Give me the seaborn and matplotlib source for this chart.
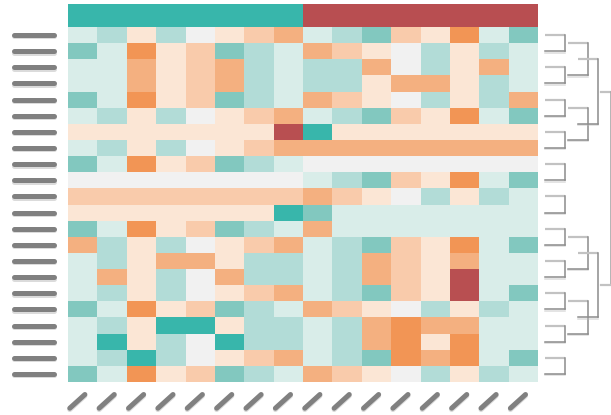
import numpy as np
import pandas as pd
import matplotlib
matplotlib.use("Agg")
import matplotlib.pyplot as plt
from matplotlib.colors import ListedColormap
from matplotlib.transforms import blended_transform_factory
import matplotlib.patheffects as pe
import seaborn as sns

# ---- data -------------------------------------------------------------
level_colors = ["#38b6ab", "#82c8bf", "#b2dcd7", "#d9ede9", "#f1f1f1",
                "#fbe6d5", "#f9cbab", "#f4b080", "#f29555", "#b84f51"]
group_colors = ["#38b6ab", "#b84e51"]
column_groups = [0] * 8 + [1] * 8

rows = [
    [3, 2, 5, 2, 4, 5, 6, 7, 3, 2, 1, 6, 5, 8, 3, 1],
    [1, 3, 8, 5, 6, 1, 2, 3, 7, 6, 5, 4, 2, 5, 2, 3],
    [3, 3, 7, 5, 6, 7, 2, 3, 2, 2, 7, 4, 2, 5, 7, 3],
    [3, 3, 7, 5, 6, 7, 2, 3, 2, 2, 5, 7, 7, 5, 2, 3],
    [1, 3, 8, 5, 6, 1, 2, 3, 7, 6, 5, 4, 2, 5, 2, 7],
    [3, 2, 5, 2, 4, 5, 6, 7, 3, 2, 1, 6, 5, 8, 3, 1],
    [5, 5, 5, 5, 5, 5, 5, 9, 0, 5, 5, 5, 5, 5, 5, 5],
    [3, 2, 5, 2, 4, 5, 6, 7, 7, 7, 7, 7, 7, 7, 7, 7],
    [1, 3, 8, 5, 6, 1, 2, 3, 4, 4, 4, 4, 4, 4, 4, 4],
    [4, 4, 4, 4, 4, 4, 4, 4, 3, 2, 1, 6, 5, 8, 3, 1],
    [6, 6, 6, 6, 6, 6, 6, 6, 7, 6, 5, 4, 2, 5, 2, 3],
    [5, 5, 5, 5, 5, 5, 5, 0, 1, 3, 3, 3, 3, 3, 3, 3],
    [1, 3, 8, 5, 6, 1, 2, 3, 7, 3, 3, 3, 3, 3, 3, 3],
    [7, 2, 5, 2, 4, 5, 6, 7, 3, 2, 1, 6, 5, 8, 3, 1],
    [3, 2, 5, 7, 7, 5, 2, 2, 3, 2, 7, 6, 5, 7, 3, 3],
    [3, 7, 5, 2, 4, 7, 2, 2, 3, 2, 7, 6, 5, 9, 3, 3],
    [3, 2, 5, 2, 4, 5, 6, 7, 3, 2, 1, 6, 5, 9, 3, 1],
    [1, 3, 8, 5, 6, 1, 2, 3, 7, 6, 5, 4, 2, 5, 2, 3],
    [3, 2, 5, 0, 0, 5, 2, 2, 3, 2, 7, 8, 7, 7, 3, 3],
    [3, 0, 5, 2, 4, 0, 2, 2, 3, 2, 7, 8, 5, 8, 3, 3],
    [3, 2, 0, 2, 4, 5, 6, 7, 3, 2, 1, 8, 7, 8, 3, 1],
    [1, 3, 8, 5, 6, 1, 2, 3, 7, 6, 5, 4, 2, 5, 2, 3],
]

# dendrogram structure: leaves are row pairs, then merges by index
leaf_pairs = [(2 * i, 2 * i + 1) for i in range(11)]
level2_merges = [(0, 1), (2, 3), (6, 7), (8, 9)]
level3_merges = [(0, 1), (2, 3)]
top_merges = [(0, 1)]

# ---- figure -----------------------------------------------------------
W, H = 611, 415
fig = plt.figure(figsize=(W / 100, H / 100), dpi=100)

def frac_box(x0, y0, x1, y1):
    return [x0 / W, 1 - y1 / H, (x1 - x0) / W, (y1 - y0) / H]

ax = fig.add_axes(frac_box(68, 27, 538, 382))
ax_top = fig.add_axes(frac_box(68, 4, 538, 27))
ax_den = fig.add_axes(frac_box(538, 27, 611, 382))

df = pd.DataFrame(rows)
nrow, ncol = df.shape
sns.heatmap(df, ax=ax, cmap=ListedColormap(level_colors), vmin=-0.5,
            vmax=len(level_colors) - 0.5, cbar=False, linewidths=0,
            xticklabels=False, yticklabels=False)

sns.heatmap(pd.DataFrame([column_groups]), ax=ax_top,
            cmap=ListedColormap(group_colors), vmin=-0.5, vmax=1.5,
            cbar=False, xticklabels=False, yticklabels=False)
for a in (ax, ax_top):
    a.tick_params(left=False, bottom=False)

# ---- redacted row labels (gray strokes) -------------------------------
shadow = [pe.SimpleLineShadow(offset=(0, -1), shadow_color="#999999", alpha=0.35),
          pe.Normal()]
tr_row = blended_transform_factory(fig.transFigure, ax.transData)
for r in range(nrow):
    ax.plot([13.5 / W, 53.5 / W], [r + 0.5, r + 0.5], transform=tr_row,
            color="#808080", lw=3.6, solid_capstyle="round", clip_on=False,
            path_effects=shadow)

tr_col = blended_transform_factory(ax.transData, fig.transFigure)
for c in range(ncol):
    ax.plot([c + 0.06, c + 0.575], [1 - 408.2 / H, 1 - 394.5 / H],
            transform=tr_col, color="#808080", lw=3.6,
            solid_capstyle="round", clip_on=False, path_effects=shadow)

# ---- dendrogram -------------------------------------------------------
ax_den.set_xlim(538, 611)
ax_den.set_ylim(nrow, 0)
ax_den.axis("off")
light, dark = "#c2c2c2", "#8c8c8c"

def bracket(y_top, y_bot, x0, x1):
    ax_den.plot([x0, x1], [y_top, y_top], color=light, lw=1.6,
                solid_capstyle="butt", clip_on=False)
    ax_den.plot([x1, x1], [y_top, y_bot], color=dark, lw=1.1, clip_on=False)
    ax_den.plot([x0, x1], [y_bot, y_bot], color=dark, lw=1.1,
                clip_on=False, path_effects=[pe.SimpleLineShadow(
                    offset=(0, -1), shadow_color="#bbbbbb", alpha=0.5),
                    pe.Normal()])

leaf_y = []
for a, b in leaf_pairs:
    ya, yb = a + 0.5, b + 0.5
    bracket(ya, yb, 545, 565)
    leaf_y.append((ya + yb) / 2)

lvl2_y = []
for a, b in level2_merges:
    bracket(leaf_y[a], leaf_y[b], 567.7, 587.7)
    lvl2_y.append((leaf_y[a] + leaf_y[b]) / 2)

lvl3_y = []
for a, b in level3_merges:
    bracket(lvl2_y[a], lvl2_y[b], 577.7, 597.7)
    lvl3_y.append((lvl2_y[a] + lvl2_y[b]) / 2)

for a, b in top_merges:
    ax_den.plot([601, 610.5], [lvl3_y[a], lvl3_y[a]], color=light, lw=1.6,
                clip_on=False)
    ax_den.plot([610.5, 610.5], [lvl3_y[a], lvl3_y[b]], color="#a8a8a8",
                lw=1.2, clip_on=False)
    ax_den.plot([601, 610.5], [lvl3_y[b], lvl3_y[b]], color=light, lw=1.6,
                clip_on=False)

fig.savefig("out.png", dpi=100)
